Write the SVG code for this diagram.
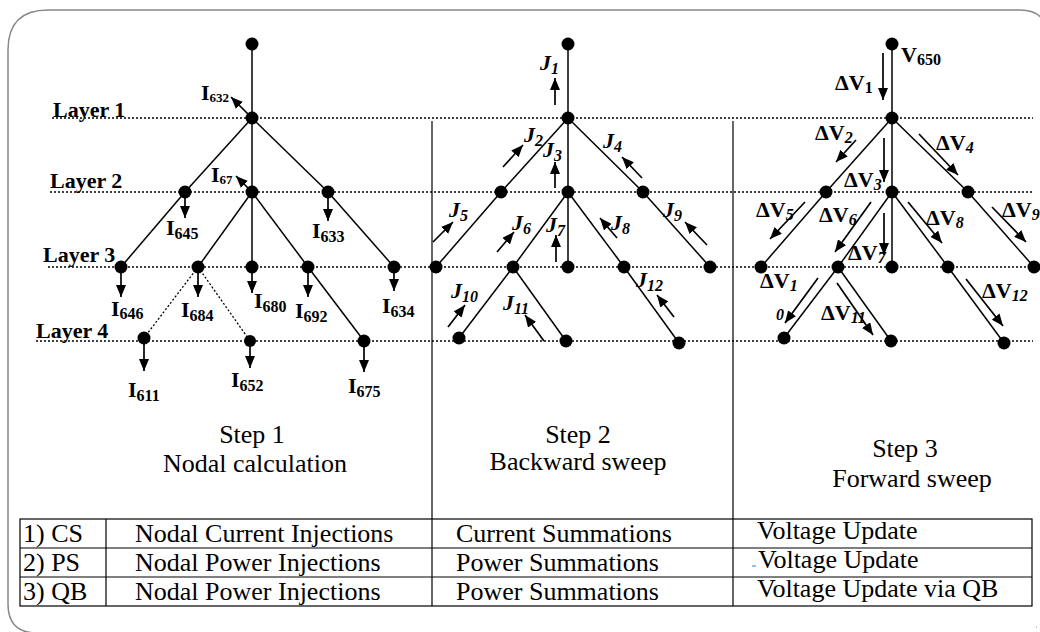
<svg xmlns="http://www.w3.org/2000/svg" width="1040" height="632" viewBox="0 0 1040 632">
<style>
.ln{stroke:#000;stroke-width:1.5;fill:none}
.dt{stroke:#000;stroke-width:1.3;stroke-dasharray:2 2;fill:none}
.nd{fill:#000}
.ar{stroke:#000;stroke-width:1.7;fill:none;marker-end:url(#ah)}
.bd{stroke:#000;stroke-width:1.2;fill:none}
.lb{font-family:"Liberation Serif",serif;font-weight:bold;font-size:22px;fill:#000}
.ly{font-family:"Liberation Serif",serif;font-weight:bold;font-size:22px;fill:#000}
.s12{font-size:13px}
.s15{font-size:16px}
.it{font-style:italic}
.st{font-family:"Liberation Serif",serif;font-size:26px;text-anchor:middle;fill:#000}
.tb{font-family:"Liberation Serif",serif;font-size:26px;fill:#000}
</style>
<defs>
<marker id="ah" viewBox="0 0 12 10" refX="12" refY="5" markerWidth="12" markerHeight="10" markerUnits="userSpaceOnUse" orient="auto"><path d="M0,0 L12,5 L0,10 z" fill="#000"/></marker>
</defs>
<rect width="1040" height="632" fill="#fff"/>
<path d="M1048,660 L1048,40 Q1048,10 1020,10 L48,10 Q8,10 8,50 L8,604 Q8,633 37,633" fill="none" stroke="#888" stroke-width="1.5"/>
<line x1="1036" y1="627" x2="1037" y2="627" stroke="#999" stroke-width="1"/>

<g id="layers">
<line class="dt" x1="52" y1="118" x2="1033" y2="118"/>
<line class="dt" x1="50" y1="192" x2="1033" y2="192"/>
<line class="dt" x1="48" y1="267" x2="1033" y2="267"/>
<line class="dt" x1="36" y1="341" x2="1033" y2="341"/>
<text class="ly" x="53" y="117">Layer 1</text>
<text class="ly" x="50" y="188">Layer 2</text>
<text class="ly" x="43" y="262">Layer 3</text>
<text class="ly" x="36" y="338">Layer 4</text>
</g>

<g id="dividers">
<line class="bd" x1="432" y1="121" x2="432" y2="606"/>
<line class="bd" x1="733" y1="121" x2="733" y2="606"/>
</g>

<g id="connectors">
<line class="ln" x1="252" y1="44" x2="252" y2="267"/>
<line class="ln" x1="252" y1="118" x2="185" y2="192"/>
<line class="ln" x1="252" y1="118" x2="328" y2="192"/>
<line class="ln" x1="185" y1="192" x2="121" y2="267"/>
<line class="ln" x1="252" y1="192" x2="198" y2="267"/>
<line class="ln" x1="252" y1="192" x2="308" y2="267"/>
<line class="ln" x1="328" y1="192" x2="394" y2="267"/>
<line class="ln" x1="308" y1="267" x2="364" y2="341"/>
<line class="dt" x1="198" y1="267" x2="144" y2="338"/>
<line class="dt" x1="198" y1="267" x2="250" y2="341"/>

<line class="ln" x1="568" y1="44" x2="568" y2="267"/>
<line class="ln" x1="568" y1="118" x2="501" y2="192"/>
<line class="ln" x1="568" y1="118" x2="643" y2="192"/>
<line class="ln" x1="501" y1="192" x2="436" y2="267"/>
<line class="ln" x1="568" y1="192" x2="513" y2="267"/>
<line class="ln" x1="568" y1="192" x2="624" y2="267"/>
<line class="ln" x1="643" y1="192" x2="710" y2="267"/>
<line class="ln" x1="513" y1="267" x2="459" y2="338"/>
<line class="ln" x1="513" y1="267" x2="566" y2="341"/>
<line class="ln" x1="624" y1="267" x2="679" y2="343"/>

<line class="ln" x1="892" y1="44" x2="892" y2="267"/>
<line class="ln" x1="892" y1="118" x2="826" y2="192"/>
<line class="ln" x1="892" y1="118" x2="968" y2="192"/>
<line class="ln" x1="826" y1="192" x2="761" y2="267"/>
<line class="ln" x1="892" y1="192" x2="838" y2="267"/>
<line class="ln" x1="892" y1="192" x2="948" y2="267"/>
<line class="ln" x1="968" y1="192" x2="1034" y2="267"/>
<line class="ln" x1="838" y1="267" x2="784" y2="338"/>
<line class="ln" x1="838" y1="267" x2="891" y2="341"/>
<line class="ln" x1="948" y1="267" x2="1004" y2="343"/>

<line class="ar" x1="252" y1="118" x2="231" y2="97"/>
<line class="ar" x1="252" y1="192" x2="236" y2="176"/>
<line class="ar" x1="185" y1="192" x2="185" y2="218"/>
<line class="ar" x1="328" y1="192" x2="328" y2="221"/>
<line class="ar" x1="121" y1="267" x2="121" y2="297"/>
<line class="ar" x1="198" y1="267" x2="198" y2="297"/>
<line class="ar" x1="252" y1="267" x2="252" y2="293"/>
<line class="ar" x1="308" y1="267" x2="308" y2="297"/>
<line class="ar" x1="394" y1="267" x2="394" y2="291"/>
<line class="ar" x1="144" y1="338" x2="144" y2="371"/>
<line class="ar" x1="250" y1="341" x2="250" y2="368"/>
<line class="ar" x1="364" y1="341" x2="364" y2="372"/>

<line class="ar" x1="555" y1="105" x2="555" y2="78"/>
<line class="ar" x1="503" y1="167" x2="523" y2="145"/>
<line class="ar" x1="555" y1="188" x2="555" y2="162"/>
<line class="ar" x1="642" y1="178" x2="622" y2="157"/>
<line class="ar" x1="433" y1="242" x2="453" y2="222"/>
<line class="ar" x1="497" y1="252" x2="514" y2="232"/>
<line class="ar" x1="556" y1="262" x2="556" y2="235"/>
<line class="ar" x1="617" y1="238" x2="600" y2="218"/>
<line class="ar" x1="707" y1="245" x2="685" y2="222"/>
<line class="ar" x1="448" y1="327" x2="465" y2="305"/>
<line class="ar" x1="544" y1="341" x2="525" y2="315"/>
<line class="ar" x1="674" y1="317" x2="657" y2="295"/>

<line class="ar" x1="883" y1="53" x2="883" y2="100"/>
<line class="ar" x1="856" y1="140" x2="836" y2="162"/>
<line class="ar" x1="884" y1="138" x2="884" y2="182"/>
<line class="ar" x1="919" y1="134" x2="958" y2="175"/>
<line class="ar" x1="805" y1="202" x2="770" y2="239"/>
<line class="ar" x1="871" y1="202" x2="835" y2="252"/>
<line class="ar" x1="884" y1="213" x2="884" y2="255"/>
<line class="ar" x1="908" y1="202" x2="942" y2="243"/>
<line class="ar" x1="992" y1="207" x2="1026" y2="242"/>
<line class="ar" x1="818" y1="278" x2="785" y2="323"/>
<line class="ar" x1="837" y1="283" x2="873" y2="335"/>
<line class="ar" x1="966" y1="279" x2="1003" y2="326"/>
</g>

<g id="n1-top"><circle class="nd" cx="252" cy="44" r="6.5"/></g>
<g id="n1-632"><circle class="nd" cx="252" cy="118" r="6.5"/></g>
<g id="n1-645"><circle class="nd" cx="185" cy="192" r="6.5"/></g>
<g id="n1-671"><circle class="nd" cx="252" cy="192" r="6.5"/></g>
<g id="n1-633"><circle class="nd" cx="328" cy="192" r="6.5"/></g>
<g id="n1-646"><circle class="nd" cx="121" cy="267" r="6.5"/></g>
<g id="n1-684"><circle class="nd" cx="198" cy="267" r="6.5"/></g>
<g id="n1-680"><circle class="nd" cx="252" cy="267" r="6.5"/></g>
<g id="n1-692"><circle class="nd" cx="308" cy="267" r="6.5"/></g>
<g id="n1-634"><circle class="nd" cx="394" cy="267" r="6.5"/></g>
<g id="n1-611"><circle class="nd" cx="144" cy="338" r="6.5"/></g>
<g id="n1-652"><circle class="nd" cx="250" cy="341" r="6"/></g>
<g id="n1-675"><circle class="nd" cx="364" cy="341" r="6.5"/></g>

<g id="n2-top"><circle class="nd" cx="568" cy="44" r="6.5"/></g>
<g id="n2-l1"><circle class="nd" cx="568" cy="118" r="6.5"/></g>
<g id="n2-l2a"><circle class="nd" cx="501" cy="192" r="6.5"/></g>
<g id="n2-l2b"><circle class="nd" cx="568" cy="192" r="6.5"/></g>
<g id="n2-l2c"><circle class="nd" cx="643" cy="192" r="6.5"/></g>
<g id="n2-l3a"><circle class="nd" cx="436" cy="267" r="6.5"/></g>
<g id="n2-l3b"><circle class="nd" cx="513" cy="267" r="6.5"/></g>
<g id="n2-l3c"><circle class="nd" cx="568" cy="267" r="6.5"/></g>
<g id="n2-l3d"><circle class="nd" cx="624" cy="267" r="6.5"/></g>
<g id="n2-l3e"><circle class="nd" cx="710" cy="267" r="6.5"/></g>
<g id="n2-l4a"><circle class="nd" cx="459" cy="338" r="6.5"/></g>
<g id="n2-l4b"><circle class="nd" cx="566" cy="341" r="6.5"/></g>
<g id="n2-l4c"><circle class="nd" cx="679" cy="343" r="6.5"/></g>

<g id="n3-top"><circle class="nd" cx="892" cy="44" r="6.5"/></g>
<g id="n3-l1"><circle class="nd" cx="892" cy="118" r="6.5"/></g>
<g id="n3-l2a"><circle class="nd" cx="826" cy="192" r="6.5"/></g>
<g id="n3-l2b"><circle class="nd" cx="892" cy="192" r="6.5"/></g>
<g id="n3-l2c"><circle class="nd" cx="968" cy="192" r="6.5"/></g>
<g id="n3-l3a"><circle class="nd" cx="761" cy="267" r="6.5"/></g>
<g id="n3-l3b"><circle class="nd" cx="838" cy="267" r="6.5"/></g>
<g id="n3-l3c"><circle class="nd" cx="892" cy="267" r="6.5"/></g>
<g id="n3-l3d"><circle class="nd" cx="948" cy="267" r="6.5"/></g>
<g id="n3-l3e"><circle class="nd" cx="1034" cy="267" r="6.5"/></g>
<g id="n3-l4a"><circle class="nd" cx="784" cy="338" r="6.5"/></g>
<g id="n3-l4b"><circle class="nd" cx="891" cy="341" r="6.5"/></g>
<g id="n3-l4c"><circle class="nd" cx="1004" cy="343" r="6.5"/></g>

<g id="labels-step1">
<text class="lb" x="201" y="100">I<tspan class="s12" dy="2">632</tspan></text>
<text class="lb" x="211" y="182">I<tspan class="s12" dy="2">67</tspan></text>
<text class="lb" x="166" y="235">I<tspan class="s15" dy="4">645</tspan></text>
<text class="lb" x="312" y="238">I<tspan class="s15" dy="4">633</tspan></text>
<text class="lb" x="111" y="316">I<tspan class="s15" dy="3">646</tspan></text>
<text class="lb" x="181" y="317">I<tspan class="s15" dy="4">684</tspan></text>
<text class="lb" x="254" y="308">I<tspan class="s15" dy="4">680</tspan></text>
<text class="lb" x="295" y="318">I<tspan class="s15" dy="4">692</tspan></text>
<text class="lb" x="382" y="313">I<tspan class="s15" dy="4">634</tspan></text>
<text class="lb" x="128" y="397">I<tspan class="s15" dy="4">611</tspan></text>
<text class="lb" x="231" y="387">I<tspan class="s15" dy="4">652</tspan></text>
<text class="lb" x="348" y="393">I<tspan class="s15" dy="4">675</tspan></text>
</g>

<g id="labels-step2">
<text class="lb it" x="540" y="70">J<tspan class="s15" dy="4">1</tspan></text>
<text class="lb it" x="524" y="142">J<tspan class="s15" dy="4">2</tspan></text>
<text class="lb it" x="543" y="157">J<tspan class="s15" dy="4">3</tspan></text>
<text class="lb it" x="603" y="148">J<tspan class="s15" dy="4">4</tspan></text>
<text class="lb it" x="449" y="217">J<tspan class="s15" dy="4">5</tspan></text>
<text class="lb it" x="512" y="230">J<tspan class="s15" dy="4">6</tspan></text>
<text class="lb it" x="546" y="232">J<tspan class="s15" dy="4">7</tspan></text>
<text class="lb it" x="611" y="230">J<tspan class="s15" dy="4">8</tspan></text>
<text class="lb it" x="663" y="217">J<tspan class="s15" dy="4">9</tspan></text>
<text class="lb it" x="451" y="298">J<tspan class="s15" dy="4">10</tspan></text>
<text class="lb it" x="503" y="310">J<tspan class="s15" dy="4">11</tspan></text>
<text class="lb it" x="636" y="287">J<tspan class="s15" dy="4">12</tspan></text>
</g>

<g id="labels-step3">
<text class="lb" x="901" y="62">V<tspan class="s15" dy="3">650</tspan></text>
<text class="lb" x="835" y="90">ΔV<tspan class="s15" dy="3">1</tspan></text>
<text class="lb" x="815" y="140">ΔV<tspan class="s15 it" dy="3">2</tspan></text>
<text class="lb" x="844" y="187">ΔV<tspan class="s15 it" dy="3">3</tspan></text>
<text class="lb" x="936" y="150">ΔV<tspan class="s15 it" dy="3">4</tspan></text>
<text class="lb" x="756" y="217">ΔV<tspan class="s15 it" dy="3">5</tspan></text>
<text class="lb" x="819" y="222">ΔV<tspan class="s15 it" dy="3">6</tspan></text>
<text class="lb" x="848" y="260">ΔV<tspan class="s15 it" dy="3">7</tspan></text>
<text class="lb" x="926" y="225">ΔV<tspan class="s15 it" dy="3">8</tspan></text>
<text class="lb" x="1002" y="217">ΔV<tspan class="s15 it" dy="3">9</tspan></text>
<text class="lb" x="760" y="288">ΔV<tspan class="s15 it" dy="3">1</tspan></text>
<text class="lb it s15" x="776" y="320">0</text>
<text class="lb" x="821" y="320">ΔV<tspan class="s15 it" dy="3">11</tspan></text>
<text class="lb" x="982" y="298">ΔV<tspan class="s15 it" dy="3">12</tspan></text>
</g>

<g id="steps">
<text class="st" x="252" y="443">Step 1</text>
<text class="st" x="255" y="472">Nodal calculation</text>
<text class="st" x="578" y="443">Step 2</text>
<text class="st" x="578" y="470">Backward sweep</text>
<text class="st" x="905" y="457">Step 3</text>
<text class="st" x="912" y="487">Forward sweep</text>
</g>

<g id="table">
<rect class="bd" x="20" y="519" width="1012" height="87"/>
<line class="bd" x1="20" y1="548" x2="1032" y2="548"/>
<line class="bd" x1="20" y1="577" x2="1032" y2="577"/>
<line class="bd" x1="106" y1="519" x2="106" y2="606"/>
<text class="tb" x="23" y="542">1) CS</text>
<text class="tb" x="135" y="542">Nodal Current Injections</text>
<text class="tb" x="456" y="542">Current Summations</text>
<text class="tb" x="757" y="539">Voltage Update</text>
<text class="tb" x="23" y="571">2) PS</text>
<text class="tb" x="135" y="571">Nodal Power Injections</text>
<text class="tb" x="456" y="571">Power Summations</text>
<line x1="752" y1="566" x2="756" y2="566" stroke="#3a6fd8" stroke-width="1"/>
<text class="tb" x="758" y="568">Voltage Update</text>
<text class="tb" x="23" y="600">3) QB</text>
<text class="tb" x="135" y="600">Nodal Power Injections</text>
<text class="tb" x="456" y="600">Power Summations</text>
<text class="tb" x="757" y="597">Voltage Update via QB</text>
</g>
</svg>
